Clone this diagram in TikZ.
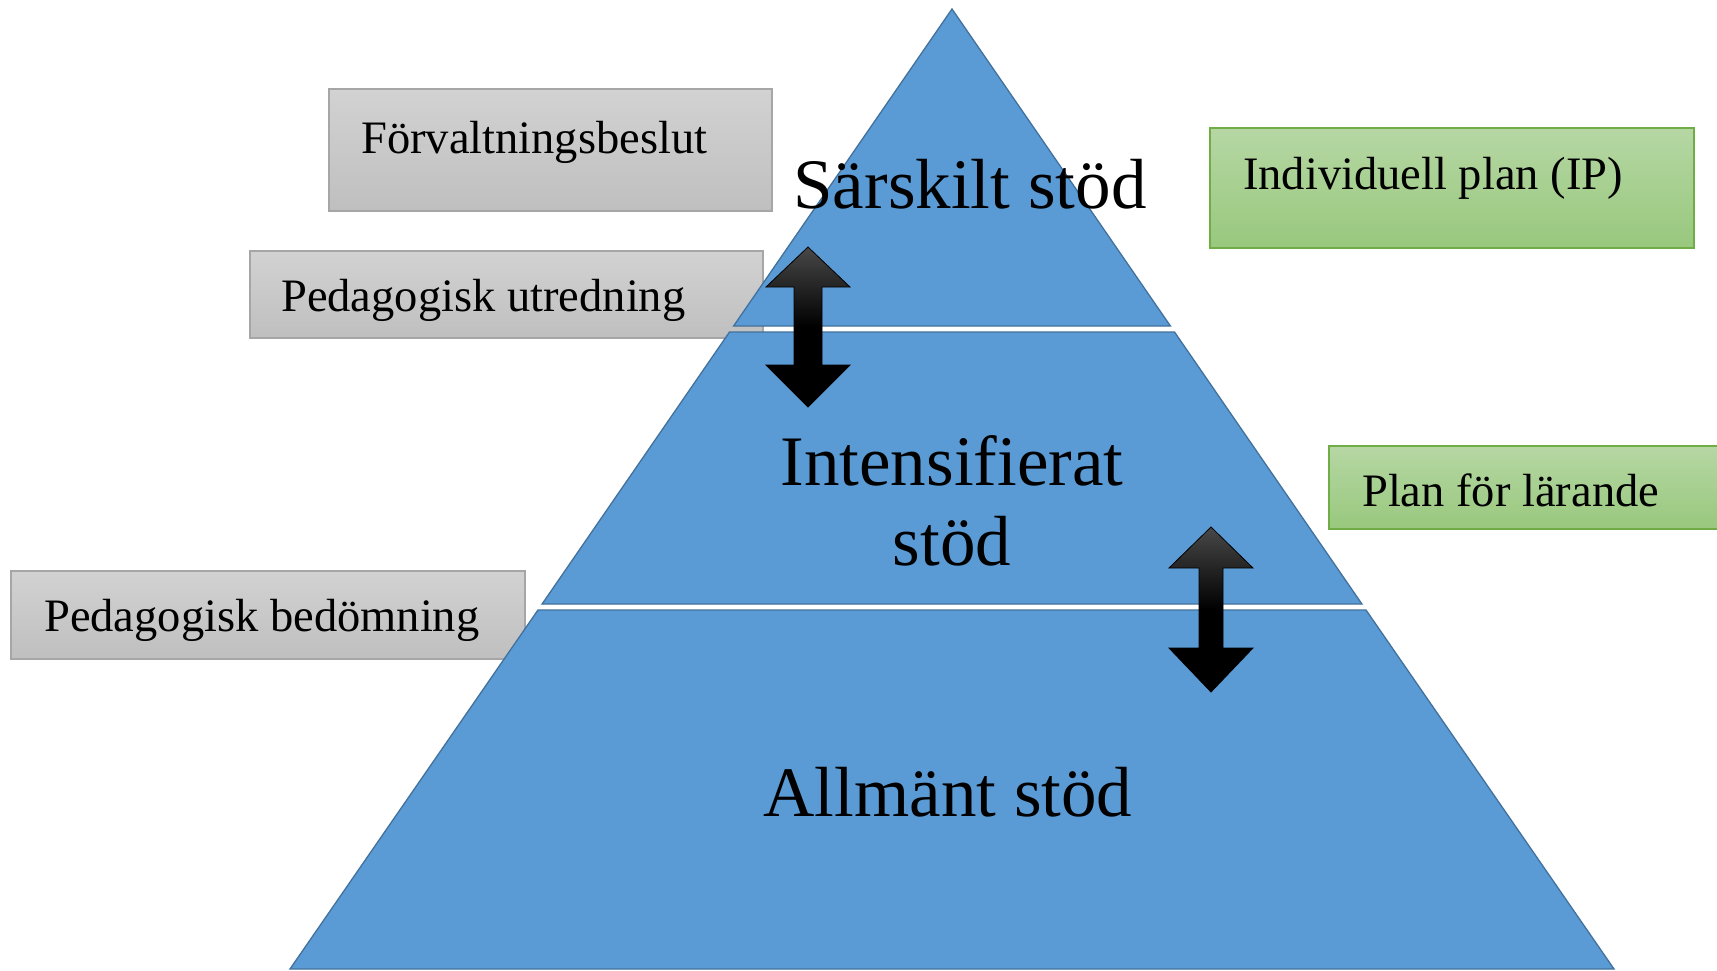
\documentclass[tikz,border=0pt]{standalone}
\usepackage{fontspec}
\setmainfont{Liberation Serif}
\definecolor{pyrfill}{RGB}{91,155,213}
\definecolor{pyrline}{RGB}{65,113,156}
\definecolor{graytop}{RGB}{210,210,210}
\definecolor{graybot}{RGB}{191,191,191}
\definecolor{grayline}{RGB}{166,166,166}
\definecolor{greentop}{RGB}{182,215,164}
\definecolor{greenbot}{RGB}{152,200,125}
\definecolor{greenline}{RGB}{112,173,71}
\definecolor{arrtop}{RGB}{72,72,72}
\tikzset{
  graybox/.style={draw=grayline, line width=2.5pt, top color=graytop, bottom color=graybot},
  greenbox/.style={draw=greenline, line width=2.5pt, top color=greentop, bottom color=greenbot},
  tier/.style={fill=pyrfill, draw=pyrline, line width=1.3pt, line join=miter},
  boxtext/.style={inner sep=0pt, anchor=base west, font=\fontsize{46.5}{52}\selectfont},
  tiertext/.style={inner sep=0pt, anchor=base, font=\fontsize{71}{80}\selectfont, align=center},
  dblarrow/.style={draw=black, line width=0.8pt, shading=axis, top color=arrtop, bottom color=black, middle color=black}
}
\begin{document}
\begin{tikzpicture}[x=1pt,y=-1pt]
\clip (0,0) rectangle (1717,970);
\fill[white] (0,0) rectangle (1717,970);

% gray boxes (behind pyramid)
\path[graybox] (329,89) rectangle (772,211);
\node[boxtext] (fb) at (361,153) {Förvaltningsbeslut};
\path[graybox] (250,251) rectangle (763,338);
\node[boxtext] (pu) at (281,311) {Pedagogisk utredning};
\path[graybox] (11,571) rectangle (525,659);
\node[boxtext] (pb) at (44,631) {Pedagogisk bedömning};

% pyramid tiers
\coordinate (apex) at (952,9);
\path[tier] (apex) -- (1170.4,326) -- (733.6,326) -- cycle;
\path[tier] (729.5,332) -- (1174.5,332) -- (1361.9,604) -- (542.1,604) -- cycle;
\path[tier] (538,610) -- (1366,610) -- (1614,969) -- (290,969) -- cycle;

% tier labels
\node[tiertext] (sar) at (970,208) {Särskilt stöd};
\node[tiertext, anchor=base] (int) at (952,485) {Intensifierat};
\node[tiertext, anchor=base] (ints) at (952,565) {stöd};
\node[tiertext] (all) at (948,816) {Allmänt stöd};

% double arrows
\path[dblarrow] (808,247) -- (850,287) -- (822,287) -- (822,365) -- (850,365) -- (808,407)
  -- (766,365) -- (794,365) -- (794,287) -- (766,287) -- cycle;
\path[dblarrow] (1211,527) -- (1253,568) -- (1223,568) -- (1223,648) -- (1253,648) -- (1211,692)
  -- (1169,648) -- (1199,648) -- (1199,568) -- (1169,568) -- cycle;

% green boxes
\path[greenbox] (1210,128) rectangle (1694,248);
\node[boxtext] (ip) at (1243,189) {Individuell plan (IP)};
\path[greenbox] (1329,446) rectangle (1730,529);
\node[boxtext] (pl) at (1362,506) {Plan för lärande};
\end{tikzpicture}
\end{document}
